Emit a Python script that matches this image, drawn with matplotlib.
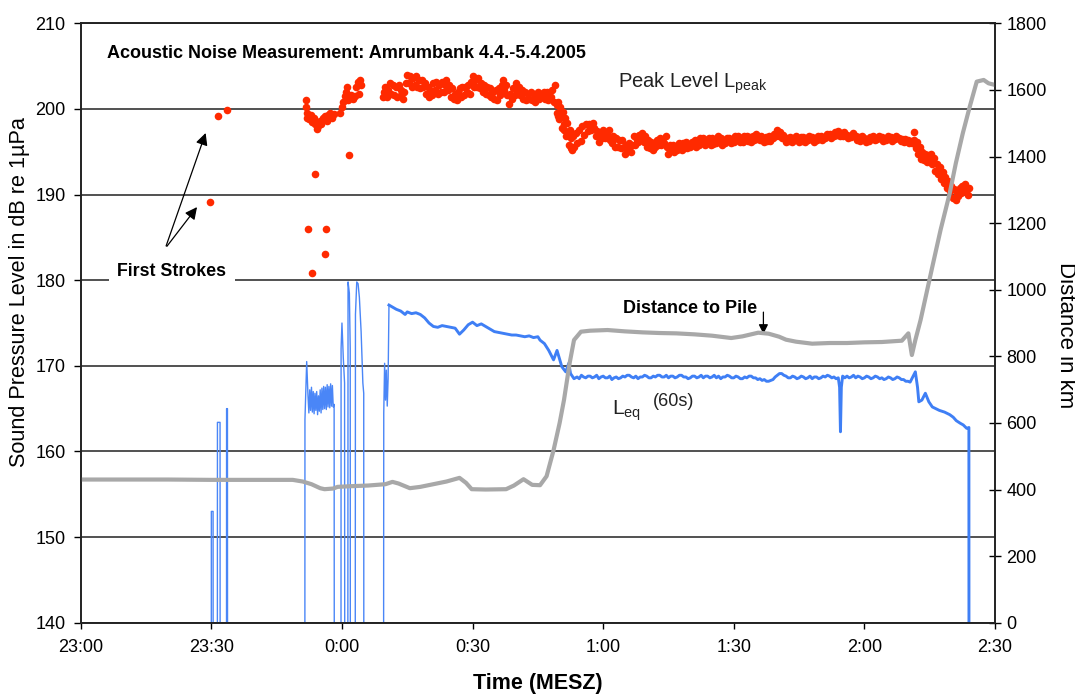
import matplotlib.pyplot as plt

plt.rcParams['font.family'] = ['Liberation Sans', 'DejaVu Sans']
plt.rcParams['mathtext.fontset'] = 'custom'
plt.rcParams['mathtext.rm'] = 'Liberation Sans'

# x axis runs in minutes after 23:00
time_ticks = [0, 30, 60, 90, 120, 150, 180, 210]
time_labels = ["23:00", "23:30", "0:00", "0:30", "1:00", "1:30", "2:00", "2:30"]
db_ticks = [140, 150, 160, 170, 180, 190, 200, 210]
km_ticks = [0, 200, 400, 600, 800, 1000, 1200, 1400, 1600, 1800]

## peak level (single points, minute / dB) ##
peak_single = [
    (29.7, 189.1), (31.6, 199.2), (33.5, 199.9),
    (51.7, 201.1), (51.8, 200.2), (51.9, 199.5), (52.0, 199.0), (52.3, 186.0),
    (52.4, 198.8), (52.8, 199.3), (53.1, 180.8), (53.2, 198.5), (53.5, 198.9),
    (53.7, 192.4), (53.9, 198.2), (54.2, 197.7), (54.5, 198.0), (54.9, 198.6),
    (55.3, 198.3), (55.7, 198.9), (56.0, 183.1), (56.1, 199.2), (56.3, 186.0),
    (56.5, 198.6), (56.9, 199.3), (57.3, 199.5), (57.7, 199.0), (58.1, 199.4),
    (59.6, 199.5), (60.0, 200.2), (60.3, 200.8), (60.6, 201.5), (61.0, 202.0),
    (61.1, 202.6), (61.4, 201.0), (61.6, 194.6), (62.0, 201.6), (62.5, 201.2),
    (63.0, 201.5), (63.3, 202.6), (63.7, 203.2), (64.1, 203.4), (64.4, 202.8),
    (64.0, 201.8), (69.5, 201.4), (69.7, 202.0),
    (109.3, 200.5), (109.5, 199.5), (109.7, 200.8), (109.9, 198.8), (110.1, 200.2),
    (110.3, 199.2), (110.5, 197.8), (110.7, 199.6), (110.9, 198.2), (111.1, 197.5),
    (111.3, 199.0), (111.5, 196.8), (111.7, 198.4), (111.9, 197.0), (112.1, 195.8),
    (112.3, 197.6), (112.5, 195.4), (112.7, 196.6), (112.9, 195.2), (113.1, 196.9),
    (113.4, 195.6), (113.7, 197.2), (114.0, 196.0), (114.4, 197.5), (114.8, 196.3),
    (115.2, 198.0), (115.6, 197.0), (116.0, 198.3), (116.4, 197.4), (116.8, 198.2),
    (117.2, 197.6), (117.6, 198.4),
    (191.3, 197.3), (191.5, 196.0), (191.8, 195.4), (192.1, 196.2), (192.4, 194.8),
    (192.7, 195.6), (193.0, 194.2), (193.3, 195.0), (193.6, 194.0), (194.0, 194.8),
    (194.3, 193.8), (194.6, 194.6), (195.0, 194.0), (195.3, 194.8), (195.6, 193.6),
    (196.0, 194.3), (196.3, 192.8), (196.6, 193.6), (197.0, 192.4), (197.3, 193.2),
    (197.6, 191.8), (198.0, 192.6), (198.3, 191.4), (198.6, 192.0), (199.0, 190.8),
    (199.3, 191.6), (199.6, 190.4), (200.0, 191.0), (200.3, 189.6), (200.6, 190.6),
    (201.0, 189.4), (201.3, 190.2), (201.6, 189.8), (201.9, 190.8), (202.2, 190.2),
    (202.5, 191.0), (202.8, 190.4), (203.1, 191.2), (203.4, 190.6), (203.7, 190.0),
    (204.0, 190.8),
]

## peak level, dense part: minute, samples at +0 s, +20 s, +40 s ##
peak_rows = [
    [70, 202.6, 201.4, 202.2], [71, 203.0, 201.8, 202.8], [72, 201.6, 202.6, 201.4],
    [73, 202.8, 201.5, 202.2], [74, 201.2, 202.0, 203.0], [75, 204.0, 203.0, 203.8],
    [76, 202.6, 203.6, 202.8], [77, 203.8, 202.6, 203.4], [78, 202.4, 203.4, 202.6],
    [79, 203.0, 201.8, 202.6], [80, 201.4, 202.2, 201.6], [81, 203.0, 202.2, 203.2],
    [82, 201.8, 202.8, 202.0], [83, 203.2, 202.0, 202.8], [84, 203.4, 202.2, 202.8],
    [85, 201.4, 202.4, 201.2], [86, 201.8, 201.0, 202.0], [87, 202.4, 201.4, 202.6],
    [88, 201.6, 202.6, 202.0], [89, 202.8, 201.8, 203.2], [90, 203.8, 202.6, 203.4],
    [91, 202.6, 203.6, 202.4], [92, 203.0, 202.0, 202.8], [93, 201.8, 202.6, 201.6],
    [94, 202.4, 201.4, 202.0], [95, 201.2, 202.2, 201.0], [96, 202.4, 201.6, 202.8],
    [97, 203.4, 202.2, 202.8], [98, 201.6, 200.6, 201.8], [99, 201.2, 202.4, 201.6],
    [100, 203.0, 202.0, 202.6], [101, 201.6, 202.2, 201.2], [102, 202.0, 201.0, 201.8],
    [103, 201.2, 202.0, 201.0], [104, 201.8, 200.8, 201.6], [105, 202.0, 201.2, 201.8],
    [106, 201.4, 202.0, 201.2], [107, 202.0, 201.0, 201.6], [108, 201.4, 202.2, 200.8],
    [109, 202.8, 200.6, 199.2],
    [118, 197.8, 196.8, 197.4], [119, 196.2, 197.2, 196.6], [120, 197.6, 196.6, 197.2],
    [121, 196.8, 197.6, 196.4], [122, 196.0, 196.8, 195.6], [123, 196.6, 195.6, 196.4],
    [124, 195.4, 196.4, 195.6], [125, 194.8, 195.8, 195.2], [126, 196.0, 195.0, 195.8],
    [127, 196.8, 195.8, 196.4], [128, 196.2, 197.0, 196.4], [129, 197.2, 196.2, 196.8],
    [130, 195.6, 196.4, 195.4], [131, 196.2, 195.2, 195.8], [132, 195.6, 196.4, 195.8],
    [133, 196.6, 195.8, 196.2], [134, 196.0, 196.8, 195.6], [135, 194.8, 195.8, 195.2],
    [136, 195.8, 195.0, 195.6], [137, 195.2, 196.0, 195.4], [138, 195.2, 196.0, 195.4],
    [139, 196.2, 195.4, 195.8], [140, 195.6, 196.2, 195.8], [141, 196.4, 195.6, 196.0],
    [142, 195.8, 196.6, 196.2], [143, 196.6, 195.8, 196.4], [144, 196.0, 196.6, 195.8],
    [145, 196.6, 195.9, 196.4], [146, 196.0, 196.8, 196.2], [147, 196.6, 195.8, 196.2],
    [148, 196.0, 196.6, 196.4], [149, 196.6, 196.0, 196.2], [150, 196.1, 196.8, 196.4],
    [151, 196.8, 196.2, 196.6], [152, 196.2, 196.8, 196.4], [153, 196.9, 196.3, 196.7],
    [154, 196.2, 196.8, 196.4], [155, 197.1, 196.5, 196.9], [156, 196.4, 196.9, 196.6],
    [157, 196.1, 196.7, 196.3], [158, 196.8, 196.3, 196.7], [159, 196.6, 197.1, 196.8],
    [160, 197.5, 196.9, 197.3], [161, 196.6, 197.0, 196.5], [162, 196.1, 196.6, 196.3],
    [163, 196.7, 196.2, 196.6], [164, 196.4, 196.9, 196.5], [165, 196.2, 196.7, 196.3],
    [166, 196.7, 196.2, 196.6], [167, 196.4, 196.9, 196.5], [168, 196.7, 196.2, 196.6],
    [169, 196.4, 196.9, 196.6], [170, 196.9, 196.4, 196.7], [171, 196.6, 197.1, 196.8],
    [172, 197.1, 196.6, 196.9], [173, 196.8, 197.3, 197.0], [174, 197.4, 196.9, 197.2],
    [175, 196.8, 197.3, 197.0], [176, 197.0, 196.6, 196.9], [177, 196.7, 197.2, 196.9],
    [178, 196.8, 196.4, 196.7], [179, 196.3, 196.8, 196.5], [180, 196.6, 196.2, 196.5],
    [181, 196.3, 196.7, 196.6], [182, 196.8, 196.4, 196.6], [183, 196.5, 196.8, 196.6],
    [184, 196.7, 196.3, 196.5], [185, 196.4, 196.8, 196.6], [186, 196.7, 196.3, 196.5],
    [187, 196.5, 196.8, 196.6], [188, 196.6, 196.3, 196.5], [189, 196.2, 196.5, 196.3],
    [190, 196.4, 196.0, 196.3], [191, 196.0, 196.4, 195.9],
]

## Leq (60s): 0 = no data ##
leq_early = [
    (29.9, 0), (30.0, 153.0), (30.4, 153.0), (30.5, 0),
    (31.3, 0), (31.4, 163.4), (32.0, 163.4), (32.1, 0),
    (33.4, 0), (33.5, 165.0), (33.7, 165.0), (33.8, 0),
    (51.4, 0), (51.5, 163.7), (51.9, 170.5), (52.2, 166.5),
    (52.4, 164.5), (52.6, 167.2), (52.8, 164.8), (53.0, 167.5), (53.2, 164.6),
    (53.4, 167.0), (53.6, 164.4), (53.8, 166.8), (54.0, 164.8), (54.2, 167.0),
    (54.4, 164.3), (54.6, 166.5), (54.8, 164.7), (55.0, 167.2), (55.2, 164.5),
    (55.4, 167.4), (55.6, 164.9), (55.8, 167.6), (56.0, 165.0), (56.2, 167.5),
    (56.4, 164.9), (56.6, 167.8), (56.8, 165.2), (57.0, 167.6), (57.2, 165.1),
    (57.4, 167.9), (57.6, 165.3), (57.8, 167.7), (58.0, 165.2), (58.2, 165.5),
    (58.4, 0),
    (59.7, 0), (59.8, 172.0), (60.0, 175.0), (60.3, 171.0), (60.6, 168.0), (60.8, 0),
    (61.2, 0), (61.4, 179.8), (61.7, 178.5), (61.9, 172.0), (62.0, 0),
    (62.9, 0), (63.1, 176.0), (63.4, 179.8), (63.7, 179.6), (64.0, 178.0),
    (64.4, 174.0), (64.8, 168.0), (65.0, 166.8), (65.1, 0),
    (69.4, 0), (69.6, 164.5), (69.8, 170.3), (70.0, 166.0), (70.2, 169.5),
    (70.4, 165.3), (70.6, 168.5), (70.8, 177.1),
]
leq_main = [
    (70.8, 177.1), (71.5, 176.9), (72.5, 176.6), (73.5, 176.4), (74.5, 176.0),
    (75.0, 176.3), (76, 176.1), (77, 176.2), (78, 176.0), (79, 175.6), (80, 175.0),
    (81, 174.6), (82, 174.5), (83, 174.7), (84, 174.6), (85, 174.5), (86, 174.4),
    (87, 173.7), (88, 174.2), (89, 174.8), (90, 175.1), (91, 174.7), (92, 174.9),
    (93, 174.6), (94, 174.3), (95, 174.0), (96, 173.9), (97, 173.8), (98, 173.7),
    (99, 173.6), (100, 173.6), (101, 173.5), (102, 173.4), (103, 173.5), (104, 173.3),
    (105, 173.4), (105.5, 173.0), (106.5, 172.6), (107.5, 171.8), (108.6, 170.7),
    (109.4, 171.8), (110.5, 169.9), (111.4, 169.3), (112.1, 170.3), (112.5, 169.1),
    (113.3, 168.5), (114, 168.7), (114.5, 168.5), (115, 168.9), (115.5, 168.7),
    (116, 168.6), (116.5, 168.8), (117, 168.8), (117.5, 168.6), (118, 168.7),
    (118.5, 168.9), (119, 168.5), (119.5, 168.7), (120, 168.8), (120.5, 168.6),
    (121, 168.6), (121.5, 168.8), (122, 168.4), (122.5, 168.6), (123, 168.7),
    (123.5, 168.5), (124, 168.6), (124.5, 168.8), (125, 168.7), (125.5, 168.9),
    (126, 168.9), (126.5, 168.7), (127, 168.6), (127.5, 168.8), (128, 168.5),
    (128.5, 168.7), (129, 168.7), (129.5, 168.9), (130, 168.8), (130.5, 168.6),
    (131, 168.6), (131.5, 168.8), (132, 168.7), (132.5, 168.9), (133, 168.9),
    (133.5, 168.7), (134, 168.7), (134.5, 168.9), (135, 168.6), (135.5, 168.8),
    (136, 168.8), (136.5, 168.6), (137, 168.7), (137.5, 168.9), (138, 168.9),
    (138.5, 168.7), (139, 168.7), (139.5, 168.5), (140, 168.6), (140.5, 168.8),
    (141, 168.8), (141.5, 168.6), (142, 168.7), (142.5, 168.9), (143, 168.6),
    (143.5, 168.8), (144, 168.8), (144.5, 168.6), (145, 168.7), (145.5, 168.9),
    (146, 168.6), (146.5, 168.8), (147, 168.5), (147.5, 168.7), (148, 168.7),
    (148.5, 168.9), (149, 168.8), (149.5, 168.6), (150, 168.6), (150.5, 168.8),
    (151, 168.7), (151.5, 168.5), (152, 168.5), (152.5, 168.7), (153, 168.6),
    (153.5, 168.8), (154, 168.8), (154.5, 168.6), (155, 168.6), (155.5, 168.4),
    (156, 168.5), (156.5, 168.3), (157, 168.4), (157.5, 168.2), (158, 168.2),
    (158.5, 168.3), (159, 168.4), (159.5, 168.7), (160, 168.9), (160.5, 169.1),
    (161, 169.1), (161.5, 168.9), (162, 168.8), (162.5, 168.6), (163, 168.6),
    (163.5, 168.8), (164, 168.7), (164.5, 168.5), (165, 168.6), (165.5, 168.8),
    (166, 168.7), (166.5, 168.5), (167, 168.6), (167.5, 168.8), (168, 168.5),
    (168.5, 168.7), (169, 168.7), (169.5, 168.5), (170, 168.6), (170.5, 168.8),
    (171, 168.7), (171.5, 168.9), (172, 168.8), (172.5, 168.6), (173, 168.7),
    (173.5, 168.5), (174, 168.6), (174.3, 167.5), (174.5, 162.3), (174.7, 167.5),
    (175, 168.8), (175.5, 168.6), (176, 168.8), (176.5, 168.6), (177, 168.7),
    (177.5, 168.9), (178, 168.6), (178.5, 168.8), (179, 168.7), (179.5, 168.5),
    (180, 168.6), (180.5, 168.8), (181, 168.7), (181.5, 168.5), (182, 168.6),
    (182.5, 168.8), (183, 168.7), (183.5, 168.5), (184, 168.6), (184.5, 168.4),
    (185, 168.5), (185.5, 168.7), (186, 168.6), (186.5, 168.4), (187, 168.5),
    (187.5, 168.7), (188, 168.6), (188.5, 168.4), (189, 168.4), (189.5, 168.2),
    (190, 168.2), (190.5, 168.1), (191, 168.6), (191.7, 169.3), (192.2, 167.5),
    (192.5, 165.8), (193.2, 166.0), (194, 166.8), (194.8, 165.8), (195.6, 165.2),
    (196.4, 165.0), (197.2, 164.8), (198.4, 164.6), (199.6, 164.3), (200.4, 164.0),
    (201.1, 163.6), (202, 163.3), (202.7, 163.1), (203.5, 162.7), (204, 162.8),
    (204.1, 0),
]

## distance to pile (minute / km) ##
distance = [
    (0, 430), (10, 430), (20, 430), (30, 429), (40, 429), (48.7, 429), (51, 424),
    (53, 416), (55, 404), (56, 401), (58, 403), (59, 408), (62, 410), (66, 412),
    (70, 416), (71.6, 423), (73, 418), (75.6, 404), (78, 408), (81, 416), (84, 424),
    (87, 435), (88.5, 420), (89.8, 401), (93, 400), (97.7, 401), (99.5, 412),
    (101.7, 431), (103.7, 414), (105.5, 413), (107, 440), (108.6, 518), (110, 600),
    (111, 669), (112.3, 780), (113.3, 849), (114.9, 874), (117, 877), (121, 879),
    (125, 875), (129, 872), (133, 870), (136.8, 869), (141, 866), (145, 862),
    (149.4, 855), (152, 860), (155.6, 871), (158, 868), (160.4, 859), (162, 850),
    (164.3, 844), (168, 838), (172, 840), (176, 840), (180, 842), (184, 843),
    (188.6, 847), (190.1, 869), (190.9, 804), (191.7, 849), (192.9, 909),
    (195.6, 1069), (197.5, 1180), (199.6, 1290), (201, 1380), (202.6, 1470),
    (204.2, 1550), (205.8, 1625), (207.4, 1630), (208.5, 1620), (210, 1615),
]

peak_t = [p[0] for p in peak_single]
peak_db = [p[1] for p in peak_single]
for row in peak_rows:
    for k in range(3):
        peak_t.append(row[0] + k / 3)
        peak_db.append(row[k + 1])

## plot ##
fig = plt.figure(figsize=(10.75, 6.95), dpi=100)
axis = fig.add_axes([0.0751, 0.104, 0.8505, 0.8624])
axis.set_xlim(0, 210)
axis.set_ylim(140, 210)
axis.set_xticks(time_ticks, labels=time_labels)
axis.set_yticks(db_ticks)
axis.grid(axis='y', color='#333333', lw=1.2)
axis.set_axisbelow(True)

axis.plot([p[0] for p in leq_early], [p[1] for p in leq_early], color='#4a86f7', lw=1.0)
axis.plot([p[0] for p in leq_main], [p[1] for p in leq_main], color='#3f7ff5', lw=2.1)
axis.scatter(peak_t, peak_db, s=30, color='#ff2a00', linewidths=0, zorder=3)

axis2 = axis.twinx()
axis2.set_ylim(0, 1800)
axis2.set_yticks(km_ticks)
axis2.plot([p[0] for p in distance], [p[1] for p in distance], color='#a8a8a8', lw=3,
           solid_capstyle='round', solid_joinstyle='round')

for a in (axis, axis2):
    for s in a.spines.values():
        s.set_color('#222222')
        s.set_linewidth(1.2)
axis.tick_params(axis='y', direction='out', length=5, width=1, labelsize=13, pad=6)
axis.tick_params(axis='x', direction='out', length=4, width=1, labelsize=13, pad=8)
axis2.tick_params(axis='y', direction='inout', length=8.5, width=1, labelsize=13, pad=4)

# texts
axis.text(6.0, 206.5, "Acoustic Noise Measurement: Amrumbank 4.4.-5.4.2005",
          fontsize=13, fontweight='bold', ha='left', va='center')
axis.text(123.5, 203.0, r"Peak Level L$_{\mathrm{peak}}$", fontsize=14.5,
          color='#222222', ha='left', va='center')
axis.text(124.5, 176.75, "Distance to Pile", fontsize=13, fontweight='bold',
          ha='left', va='center')
axis.annotate('', xy=(156.8, 173.4), xytext=(156.8, 176.6),
              arrowprops=dict(arrowstyle='-|>', color='black', lw=0.9, mutation_scale=14))
axis.text(122.0, 164.8, r"L$_{\mathrm{eq}}$", fontsize=15, color='#222222',
          ha='left', va='center')
axis.text(131.3, 165.8, "(60s)", fontsize=13, color='#222222', ha='left', va='center')

axis.text(20.9, 181.0, "First Strokes", fontsize=12.8, fontweight='bold',
          ha='center', va='center', zorder=4,
          bbox=dict(facecolor='white', edgecolor='none', pad=6))
axis.annotate('', xy=(28.9, 197.5), xytext=(19.4, 183.7),
              arrowprops=dict(arrowstyle='-|>', color='black', lw=0.9, mutation_scale=18))
axis.annotate('', xy=(27.1, 188.8), xytext=(19.4, 183.7),
              arrowprops=dict(arrowstyle='-|>', color='black', lw=0.9, mutation_scale=18))

fig.text(20 / 1075, 1 - 292 / 695, "Sound Pressure Level in dB re 1\u00b5Pa", fontsize=15.6,
         rotation=90, ha='center', va='center')
fig.text(1065 / 1075, 1 - 335 / 695, "Distance in km", fontsize=16,
         rotation=270, ha='center', va='center')
fig.text(538 / 1075, 1 - 683 / 695, "Time (MESZ)", fontsize=15.5, fontweight='bold',
         ha='center', va='center')

fig.savefig('out.png', dpi=100)
